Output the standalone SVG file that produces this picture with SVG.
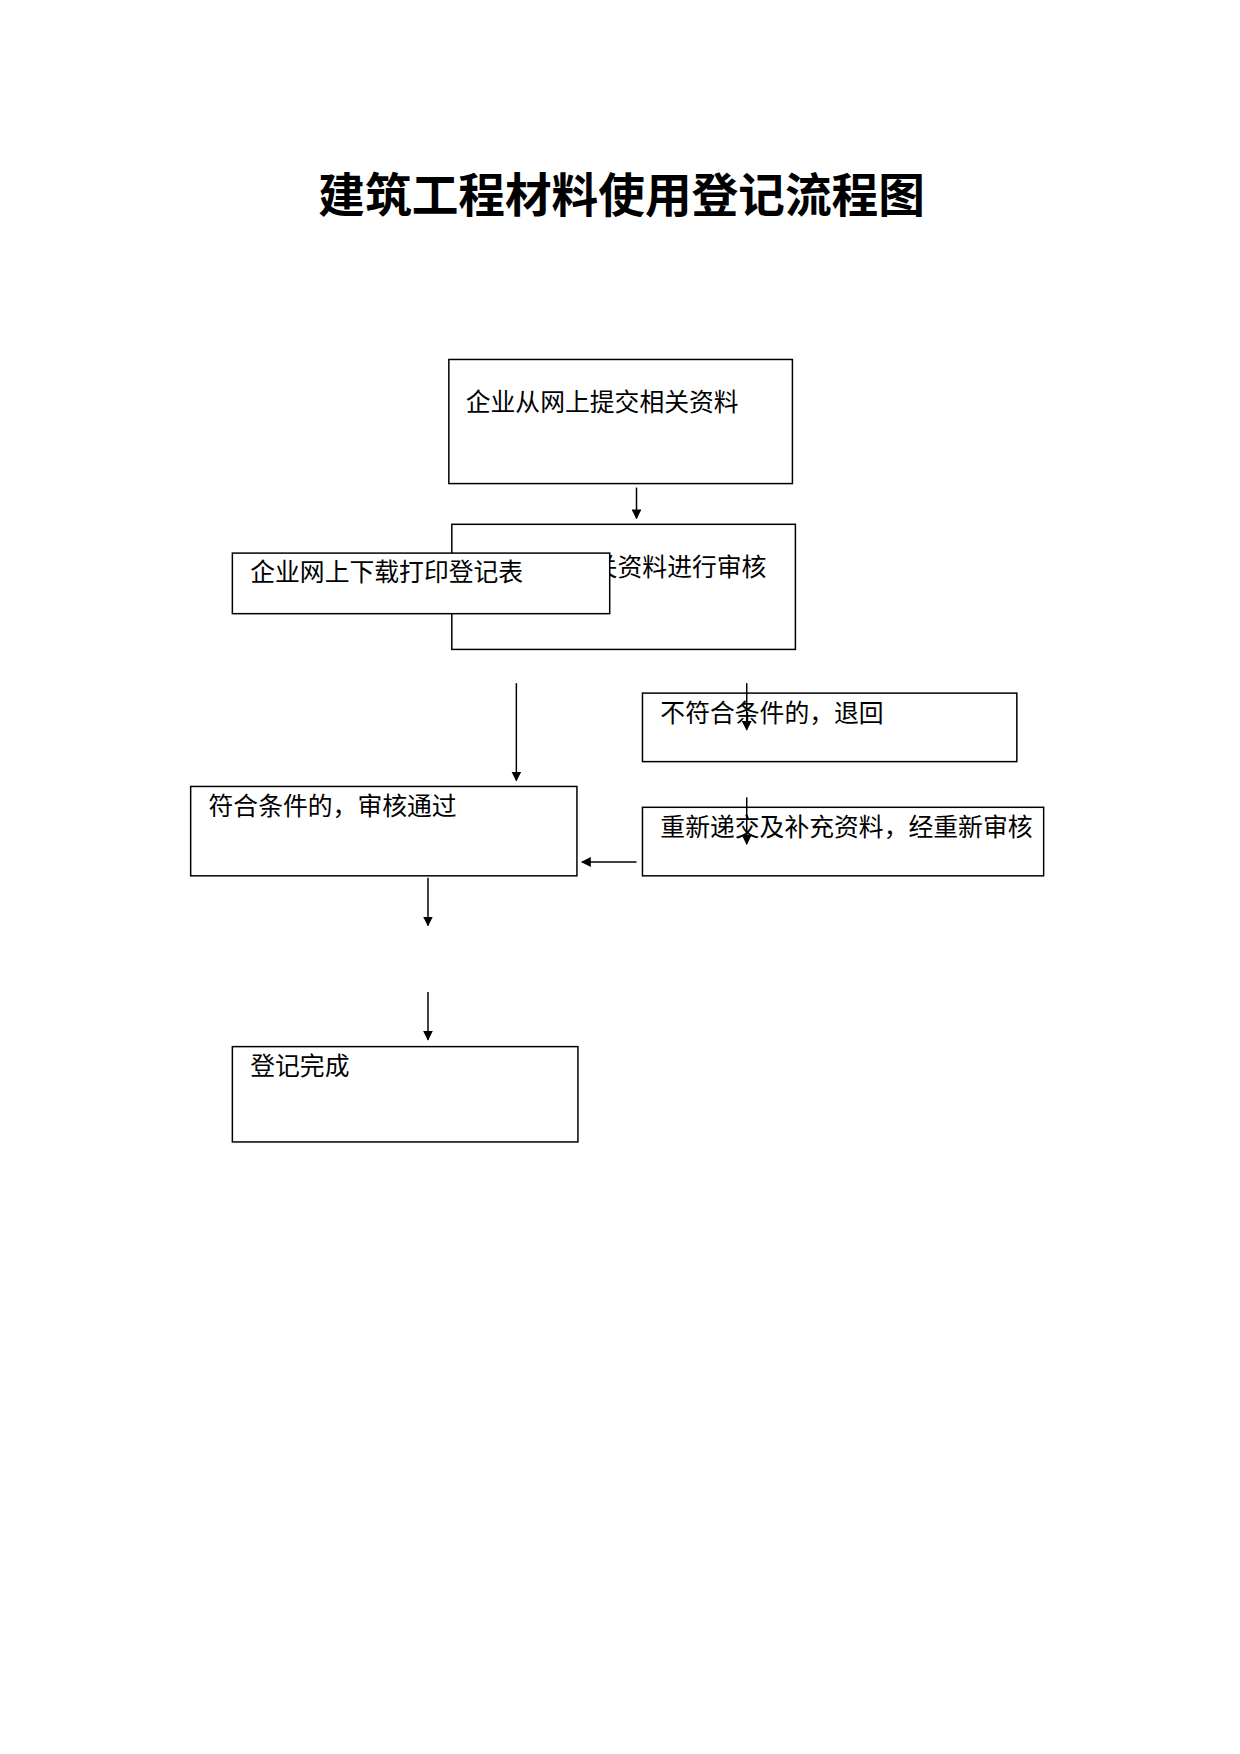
<svg xmlns="http://www.w3.org/2000/svg" width="1240" height="1754" viewBox="0 0 1240 1754">
<defs><marker id="ah" markerWidth="10" markerHeight="10" refX="9" refY="5" orient="auto" markerUnits="userSpaceOnUse"><path d="M0,0 L10,5 L0,10 z" fill="#000"/></marker></defs>
<style>
.b{fill:#fff;stroke:#000;stroke-width:1.5}
.t{font-family:"Liberation Serif","Noto Sans CJK SC",serif;font-size:25px;fill:#000}
.c{stroke:#000;stroke-width:1.5;fill:none;marker-end:url(#ah)}
</style>
<rect width="1240" height="1754" fill="#fff"/>
<g transform="scale(0.993)">
<text x="626" y="213" text-anchor="middle" style="font-family:'Noto Sans CJK SC',sans-serif;font-weight:bold;font-size:47px">建筑工程材料使用登记流程图</text>
<g id="n1"><rect class="b" x="452" y="362" width="346" height="125"/><text class="t" x="469" y="414">企业从网上提交相关资料</text></g>
<g id="n2"><rect class="b" x="455" y="528" width="346" height="126"/><text class="t" x="472" y="580">建设局对相关资料进行审核</text></g>
<g id="n3"><rect class="b" x="234" y="557" width="380" height="61"/><text class="t" x="252" y="585">企业网上下载打印登记表</text></g>
<g id="n4"><rect class="b" x="647" y="698" width="377" height="69"/><text class="t" x="665" y="727">不符合条件的，退回</text></g>
<g id="n5"><rect class="b" x="647" y="813" width="404" height="69"/><text class="t" x="665" y="842">重新递交及补充资料，经重新审核</text></g>
<g id="n6"><rect class="b" x="192" y="792" width="389" height="90"/><text class="t" x="210" y="821">符合条件的，审核通过</text></g>
<g id="n7"><rect class="b" x="234" y="1054" width="348" height="96"/><text class="t" x="252" y="1083">登记完成</text></g>
<g id="connectors">
<line class="c" x1="641" y1="491" x2="641" y2="522"/>
<line class="c" x1="520" y1="688" x2="520" y2="786"/>
<line class="c" x1="752" y1="688" x2="752" y2="735"/>
<line class="c" x1="752" y1="803" x2="752" y2="850"/>
<line class="c" x1="641" y1="868" x2="586" y2="868"/>
<line class="c" x1="431" y1="884" x2="431" y2="932"/>
<line class="c" x1="431" y1="999" x2="431" y2="1047"/>
</g>
</g>
</svg>
